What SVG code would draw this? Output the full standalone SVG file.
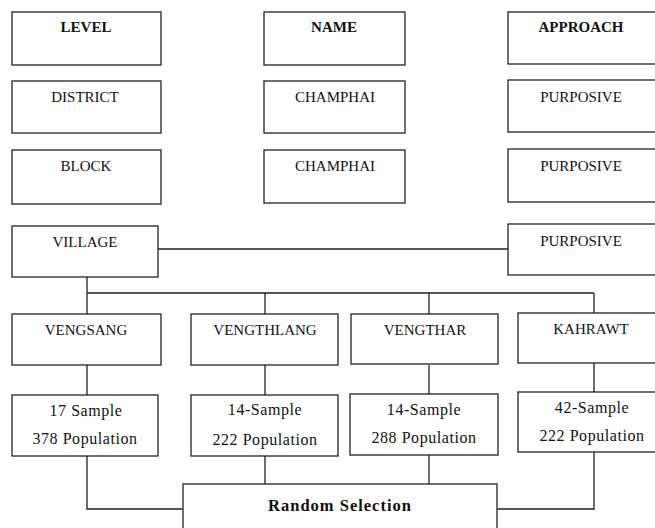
<svg xmlns="http://www.w3.org/2000/svg" width="655" height="528" viewBox="0 0 655 528">
<style>
.b{fill:#fff;stroke:#222;stroke-width:1.3}
.c{fill:none;stroke:#222;stroke-width:1.3}
text{font-family:"Liberation Serif","DejaVu Serif",serif;font-size:15px;fill:#111;text-anchor:middle}
.h{font-weight:bold}
.m{font-size:16px;letter-spacing:0.55px}
.r{font-size:16.5px;letter-spacing:1px}
</style>
<rect width="655" height="528" fill="#fff"/>
<g id="connectors">
<path class="c" d="M158,249H508"/>
<path class="c" d="M87,277V293M87,293H594M87,293V314M265,293V314M429,293V314M594,293V313"/>
<path class="c" d="M87,365V395M265,365V395M429,365V394M594,362V392"/>
<path class="c" d="M87,456V509H183M265,456V484M429,455V484M594,452V509H497"/>
</g>
<g id="level"><rect class="b" x="12" y="12" width="149" height="53"/><text class="h" x="86" y="32">LEVEL</text></g>
<g id="name"><rect class="b" x="264" y="12" width="141" height="53"/><text class="h" x="334" y="32">NAME</text></g>
<g id="approach"><rect class="b" x="508" y="12" width="150" height="52"/><text class="h" x="581" y="32">APPROACH</text></g>
<g id="district"><rect class="b" x="12" y="81" width="149" height="52"/><text x="85" y="102">DISTRICT</text></g>
<g id="champhai1"><rect class="b" x="264" y="81" width="141" height="52"/><text x="335" y="102">CHAMPHAI</text></g>
<g id="purposive1"><rect class="b" x="508" y="80" width="150" height="52"/><text x="581" y="102">PURPOSIVE</text></g>
<g id="block"><rect class="b" x="12" y="150" width="149" height="54"/><text x="86" y="171">BLOCK</text></g>
<g id="champhai2"><rect class="b" x="264" y="150" width="141" height="53"/><text x="335" y="171">CHAMPHAI</text></g>
<g id="purposive2"><rect class="b" x="508" y="149" width="150" height="53"/><text x="581" y="171">PURPOSIVE</text></g>
<g id="village"><rect class="b" x="12" y="226" width="146" height="51"/><text x="85" y="247">VILLAGE</text></g>
<g id="purposive3"><rect class="b" x="508" y="224" width="150" height="51"/><text x="581" y="246">PURPOSIVE</text></g>
<g id="vengsang"><rect class="b" x="12" y="314" width="149" height="51"/><text x="86" y="335">VENGSANG</text></g>
<g id="vengthlang"><rect class="b" x="191" y="314" width="147" height="51"/><text x="265" y="335">VENGTHLANG</text></g>
<g id="vengthar"><rect class="b" x="351" y="314" width="147" height="50"/><text x="425" y="335">VENGTHAR</text></g>
<g id="kahrawt"><rect class="b" x="518" y="313" width="150" height="50"/><text x="591" y="334">KAHRAWT</text></g>
<g id="s1"><rect class="b" x="12" y="395" width="146" height="61"/><text class="m" x="86" y="416">17 Sample</text><text class="m" x="85" y="444">378 Population</text></g>
<g id="s2"><rect class="b" x="191" y="395" width="147" height="61"/><text class="m" x="265" y="415">14-Sample</text><text class="m" x="265" y="445">222 Population</text></g>
<g id="s3"><rect class="b" x="350" y="394" width="148" height="61"/><text class="m" x="424" y="415">14-Sample</text><text class="m" x="424" y="443">288 Population</text></g>
<g id="s4"><rect class="b" x="518" y="392" width="150" height="60"/><text class="m" x="592" y="413">42-Sample</text><text class="m" x="592" y="441">222 Population</text></g>
<g id="random"><rect class="b" x="183" y="484" width="314" height="60"/><text class="h r" x="340" y="511">Random Selection</text></g>
</svg>
